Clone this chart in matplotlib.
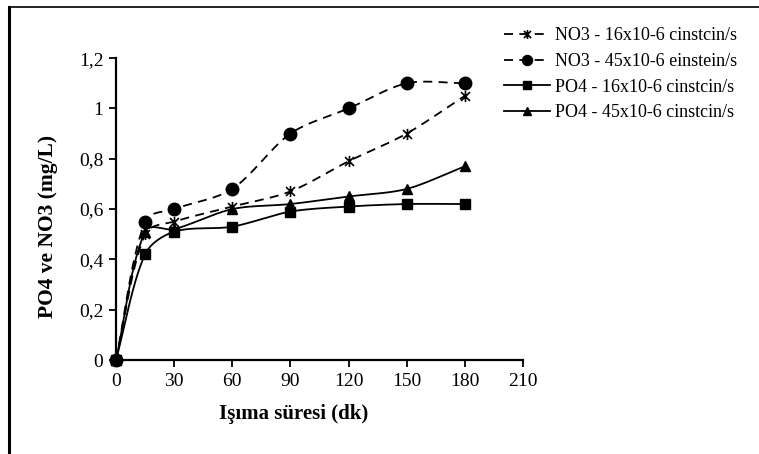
import numpy as np
import matplotlib
matplotlib.use("Agg")
import matplotlib.pyplot as plt
from matplotlib.path import Path
from matplotlib.lines import Line2D

# Irradiation time (min) and measured concentrations (mg/L)
time_min = [0, 15, 30, 60, 90, 120, 150, 180]
no3_16 = [0.00, 0.50, 0.55, 0.61, 0.67, 0.79, 0.90, 1.05]
no3_45 = [0.00, 0.55, 0.60, 0.68, 0.90, 1.00, 1.10, 1.10]
po4_16 = [0.00, 0.42, 0.51, 0.53, 0.59, 0.61, 0.62, 0.62]
po4_45 = [0.00, 0.51, 0.52, 0.60, 0.62, 0.65, 0.68, 0.77]

series_labels = [
    "NO3 - 16x10-6 cinstcin/s",
    "NO3 - 45x10-6 einstein/s",
    "PO4 - 16x10-6 cinstcin/s",
    "PO4 - 45x10-6 cinstcin/s",
]
x_ticks = [0, 30, 60, 90, 120, 150, 180, 210]
y_ticks = [0, 0.2, 0.4, 0.6, 0.8, 1.0, 1.2]
y_tick_labels = ["0", "0,2", "0,4", "0,6", "0,8", "1", "1,2"]

plt.rcParams["font.family"] = ["Liberation Serif", "DejaVu Serif"]

# star marker: an "x" crossed by a vertical bar
star = Path(
    [(-1, -1), (1, 1), (-1, 1), (1, -1), (0, -1.25), (0, 1.25)],
    [Path.MOVETO, Path.LINETO, Path.MOVETO, Path.LINETO, Path.MOVETO, Path.LINETO],
)

fig = plt.figure(figsize=(7.59, 4.54), dpi=100)
ax = fig.add_axes([0.1528, 0.207, 0.5362, 0.665])
ax.set_xlim(0, 210)
ax.set_ylim(0, 1.2)


def smooth(xs, ys, n=30, k=0.3):
    """Smoothed curve through the points: cubic Bezier segments whose handles follow
    the neighbour direction, scaled by the segment length (no large overshoot)."""
    xs = np.asarray(xs, float)
    ys = np.asarray(ys, float)
    sx = 536.0 / 210.0
    sy = 302.0 / 1.2
    P = np.column_stack([xs * sx, ys * sy])
    m = len(P)
    tang = np.zeros_like(P)
    for i in range(m):
        a = P[max(i - 1, 0)]
        b = P[min(i + 1, m - 1)]
        d = b - a
        nrm = np.hypot(*d)
        tang[i] = d / nrm if nrm > 0 else 0
    out = []
    for i in range(m - 1):
        p1, p2 = P[i], P[i + 1]
        L = np.hypot(*(p2 - p1))
        c1 = p1 + tang[i] * L * k
        c2 = p2 - tang[i + 1] * L * k
        t = np.linspace(0, 1, n)[:, None]
        seg = ((1 - t) ** 3) * p1 + 3 * ((1 - t) ** 2) * t * c1 + 3 * (1 - t) * t ** 2 * c2 + t ** 3 * p2
        out.append(seg if i == 0 else seg[1:])
    out = np.vstack(out)
    return out[:, 0] / sx, out[:, 1] / sy


styles = [
    dict(data=no3_16, ls=(0, (5, 3.5)), marker=star, ms=8, mew=1.2),
    dict(data=no3_45, ls=(0, (5, 3.5)), marker="o", ms=9, mew=1.0),
    dict(data=po4_16, ls="-", marker="s", ms=7, mew=1.0),
    dict(data=po4_45, ls="-", marker="^", ms=7, mew=1.0),
]

handles = []
for st, lab in zip(styles, series_labels):
    sx_, sy_ = smooth(time_min, st["data"])
    ax.plot(sx_, sy_, color="black", lw=1.3, ls=st["ls"], clip_on=False, zorder=2)
    ax.plot(time_min, st["data"], ls="none", marker=st["marker"], ms=st["ms"],
            mew=st["mew"], mfc="black", mec="black", clip_on=False, zorder=3)
    handles.append(Line2D([], [], color="black", lw=1.3, ls=st["ls"], marker=st["marker"],
                          ms=st["ms"] * 0.8, mew=st["mew"], mfc="black", mec="black"))

for side in ("top", "right"):
    ax.spines[side].set_visible(False)
for side in ("left", "bottom"):
    ax.spines[side].set_linewidth(1.6)

ax.set_xticks(x_ticks)
ax.set_yticks(y_ticks)
ax.set_yticklabels(y_tick_labels)
ax.tick_params(axis="both", direction="out", length=5, width=1.3, labelsize=14, pad=4)

ax.set_xlabel("Işıma süresi (dk)", fontsize=15, fontweight="bold")
ax.set_ylabel("PO4 ve NO3 (mg/L)", fontsize=15.5, fontweight="bold")
ax.xaxis.set_label_coords(0.437, -0.145)
ax.yaxis.set_label_coords(-0.143, 0.444)

fig.legend(handles, series_labels, loc="upper left", bbox_to_anchor=(0.648, 0.968),
           frameon=False, fontsize=13, handlelength=2.5, handletextpad=0.3,
           labelspacing=0.48, borderpad=0.2)

# outer chart-area border (top and left edges)
fig.add_artist(Line2D([0.0118, 1.0], [0.985, 0.985], color="black", lw=1.2,
                      transform=fig.transFigure))
fig.add_artist(Line2D([0.0118, 0.0118], [0.0, 0.985], color="black", lw=2.2,
                      transform=fig.transFigure))

fig.savefig("out.png", dpi=100)
